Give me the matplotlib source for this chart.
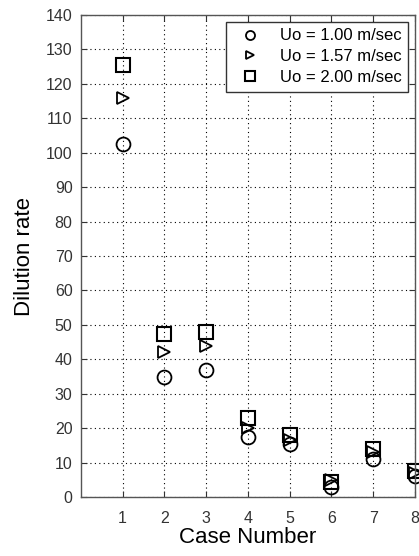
import matplotlib
matplotlib.use("Agg")
import matplotlib.pyplot as plt

plt.rcParams["font.family"] = ["Liberation Sans", "DejaVu Sans"]

cases = [1, 2, 3, 4, 5, 6, 7, 8]
u100 = [102.5, 35, 37, 17.5, 15.5, 3, 11, 6]
u157 = [116, 42, 44, 20, 16.5, 5, 13, 7]
u200 = [125.5, 47.5, 48, 23, 18, 4.5, 14, 7.5]
labels = ["Uo = 1.00 m/sec", "Uo = 1.57 m/sec", "Uo = 2.00 m/sec"]

fig = plt.figure(figsize=(4.19, 5.56), dpi=100)
ax = fig.add_axes([0.193, 0.106, 0.797, 0.867])

ax.plot(cases, u100, "o", mfc="none", mec="black", ms=10, mew=1.3, label=labels[0], clip_on=False)
ax.plot(cases, u157, ">", mfc="none", mec="black", ms=8, mew=1.3, label=labels[1], clip_on=False)
ax.plot(cases, u200, "s", mfc="none", mec="black", ms=10, mew=1.5, label=labels[2], clip_on=False)

ax.set_xlim(0, 8)
ax.set_ylim(0, 140)
ax.set_xticks(cases)
ax.set_yticks(range(0, 141, 10))
ax.tick_params(direction="in", top=True, right=True, labelsize=11.5, length=4,
               colors="#333333", pad=6)
ax.tick_params(axis="x", pad=10)
ax.grid(True, color="black", linestyle=(0, (1, 3)), linewidth=0.8)
for s in ax.spines.values():
    s.set_color("#555555")
    s.set_linewidth(1.0)

ax.set_xlabel("Case Number", fontsize=16, labelpad=1)
ax.set_ylabel("Dilution rate", fontsize=16, labelpad=8)

leg = ax.legend(loc="upper right", fontsize=12, frameon=True, fancybox=False,
                edgecolor="#333333", framealpha=1, borderaxespad=0.4,
                handletextpad=0.8, labelspacing=0.35, markerscale=0.65)
leg.get_frame().set_linewidth(1.0)

fig.savefig("out.png", dpi=100)
